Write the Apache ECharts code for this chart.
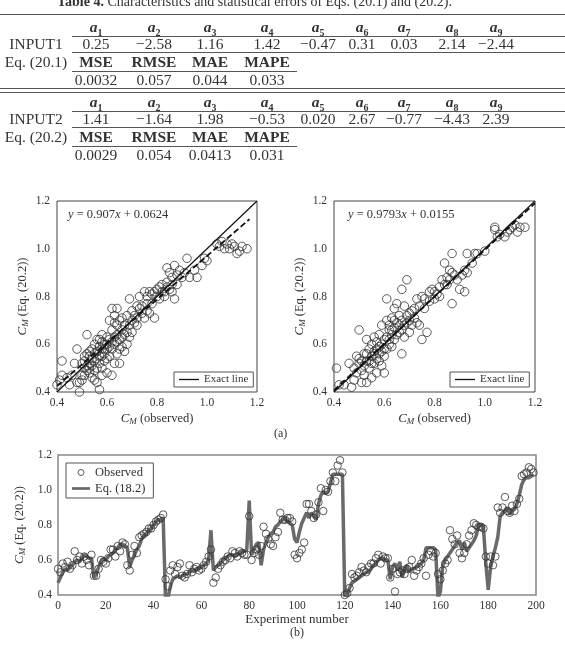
<!DOCTYPE html>
<html>
<head>
<meta charset="utf-8">
<script src="https://cdn.jsdelivr.net/npm/echarts@6/dist/echarts.min.js"></script>
<style>
body{margin:0;background:#fff;}
#main{position:absolute;left:0;top:0;width:565px;height:645px;}
#tbl{position:absolute;left:0;top:0;width:565px;height:165px;font-family:"Liberation Serif",serif;color:#333;overflow:hidden;}
.c{position:absolute;transform:translate(-50%,-50%);white-space:nowrap;font-size:15.5px;line-height:16px;}
.c sub{font-size:10px;line-height:0;}
.hl{position:absolute;height:0;border-top:1px solid #555;}
.cap{position:absolute;left:57px;top:-6px;font-size:14px;white-space:nowrap;}
</style>
</head>
<body>
<div id="main"></div>
<div id="tbl"></div>
<script>
// ---- table data
const coefNames = ['1','2','3','4','5','6','7','8','9'];
const errNames = ['MSE','RMSE','MAE','MAPE'];
const input1Coef = ['0.25','\u22122.58','1.16','1.42','\u22120.47','0.31','0.03','2.14','\u22122.44'];
const input1Err = ['0.0032','0.057','0.044','0.033'];
const input2Coef = ['1.41','\u22121.64','1.98','\u22120.53','0.020','2.67','\u22120.77','\u22124.43','2.39'];
const input2Err = ['0.0029','0.054','0.0413','0.031'];

// ---- scatter (a): [observed, predicted]
const obsVsEq1 = [
[0.41,0.45],[0.40,0.43],[0.42,0.53],[0.42,0.47],[0.44,0.46],[0.45,0.43],[0.46,0.47],[0.47,0.52],[0.48,0.58],[0.48,0.44],
[0.49,0.40],[0.49,0.44],[0.50,0.45],[0.50,0.47],[0.50,0.52],[0.51,0.50],[0.51,0.53],[0.51,0.55],[0.51,0.47],[0.52,0.64],
[0.52,0.56],[0.52,0.49],[0.52,0.51],[0.53,0.48],[0.53,0.52],[0.53,0.55],[0.53,0.57],[0.53,0.50],[0.54,0.58],[0.54,0.51],
[0.54,0.46],[0.54,0.54],[0.55,0.60],[0.55,0.53],[0.55,0.45],[0.55,0.49],[0.55,0.56],[0.56,0.57],[0.56,0.62],[0.56,0.44],
[0.56,0.54],[0.56,0.50],[0.57,0.52],[0.57,0.41],[0.57,0.55],[0.57,0.59],[0.57,0.62],[0.58,0.61],[0.58,0.50],[0.58,0.47],
[0.58,0.64],[0.58,0.55],[0.58,0.58],[0.59,0.56],[0.59,0.53],[0.59,0.60],[0.59,0.58],[0.60,0.48],[0.60,0.58],[0.60,0.63],
[0.60,0.60],[0.60,0.54],[0.61,0.70],[0.61,0.55],[0.61,0.62],[0.61,0.59],[0.62,0.75],[0.62,0.66],[0.62,0.58],[0.62,0.47],
[0.62,0.61],[0.63,0.72],[0.63,0.69],[0.63,0.60],[0.63,0.52],[0.63,0.63],[0.64,0.64],[0.64,0.75],[0.64,0.68],[0.64,0.61],
[0.64,0.56],[0.65,0.58],[0.65,0.52],[0.65,0.70],[0.65,0.62],[0.66,0.66],[0.66,0.71],[0.66,0.59],[0.66,0.63],[0.67,0.64],
[0.67,0.57],[0.67,0.68],[0.68,0.72],[0.68,0.60],[0.68,0.65],[0.69,0.79],[0.69,0.68],[0.69,0.63],[0.70,0.74],[0.70,0.65],
[0.70,0.70],[0.71,0.72],[0.71,0.69],[0.72,0.71],[0.72,0.76],[0.72,0.68],[0.73,0.75],[0.73,0.80],[0.74,0.73],[0.74,0.76],
[0.75,0.71],[0.75,0.82],[0.76,0.77],[0.76,0.74],[0.76,0.80],[0.77,0.73],[0.77,0.82],[0.78,0.81],[0.78,0.77],[0.79,0.71],
[0.79,0.82],[0.80,0.80],[0.80,0.83],[0.81,0.79],[0.81,0.84],[0.82,0.85],[0.82,0.82],[0.83,0.82],[0.83,0.80],[0.84,0.92],
[0.84,0.86],[0.84,0.84],[0.85,0.90],[0.85,0.83],[0.86,0.82],[0.86,0.88],[0.86,0.85],[0.87,0.79],[0.87,0.93],[0.88,0.89],
[0.88,0.85],[0.89,0.91],[0.90,0.88],[0.91,0.90],[0.92,0.96],[0.93,0.88],[0.95,0.91],[0.96,0.88],[0.98,0.93],[0.99,0.96],
[1.00,0.95],[1.04,1.02],[1.05,1.01],[1.06,1.03],[1.07,1.00],[1.08,1.02],[1.09,1.00],[1.10,1.02],[1.11,1.01],[1.12,0.98],
[1.13,0.99],[1.14,1.01],[1.16,1.00]
];
const fitEnds1 = [[0.40,0.425],[1.17,1.124]];

// ---- scatter (a) right panel
const obsVsEq2 = [
[0.41,0.50],[0.42,0.43],[0.44,0.43],[0.46,0.52],[0.47,0.42],[0.48,0.45],[0.48,0.50],[0.49,0.55],[0.49,0.48],[0.50,0.52],
[0.50,0.54],[0.50,0.66],[0.51,0.44],[0.51,0.49],[0.51,0.53],[0.52,0.51],[0.52,0.56],[0.52,0.47],[0.53,0.62],[0.53,0.53],
[0.53,0.44],[0.53,0.56],[0.54,0.58],[0.54,0.50],[0.54,0.53],[0.55,0.55],[0.55,0.46],[0.55,0.60],[0.55,0.52],[0.56,0.52],
[0.56,0.57],[0.56,0.63],[0.56,0.56],[0.57,0.48],[0.57,0.54],[0.57,0.61],[0.57,0.58],[0.58,0.59],[0.58,0.53],[0.58,0.64],
[0.58,0.56],[0.59,0.57],[0.59,0.68],[0.59,0.51],[0.59,0.60],[0.60,0.62],[0.60,0.55],[0.60,0.48],[0.60,0.58],[0.61,0.79],
[0.61,0.70],[0.61,0.58],[0.61,0.63],[0.62,0.66],[0.62,0.60],[0.62,0.68],[0.62,0.62],[0.63,0.64],[0.63,0.71],[0.63,0.59],
[0.63,0.66],[0.64,0.75],[0.64,0.67],[0.64,0.62],[0.64,0.70],[0.65,0.69],[0.65,0.77],[0.65,0.64],[0.66,0.72],[0.66,0.65],
[0.66,0.68],[0.67,0.83],[0.67,0.70],[0.67,0.56],[0.67,0.66],[0.68,0.76],[0.68,0.68],[0.68,0.63],[0.69,0.87],[0.69,0.72],
[0.69,0.69],[0.70,0.70],[0.70,0.73],[0.70,0.65],[0.71,0.68],[0.71,0.74],[0.72,0.75],[0.72,0.71],[0.73,0.79],[0.73,0.69],
[0.74,0.68],[0.74,0.76],[0.75,0.62],[0.75,0.80],[0.76,0.79],[0.76,0.75],[0.77,0.65],[0.78,0.78],[0.78,0.82],[0.79,0.83],
[0.80,0.82],[0.80,0.79],[0.81,0.81],[0.82,0.84],[0.82,0.80],[0.83,0.87],[0.84,0.85],[0.84,0.94],[0.85,0.88],[0.85,0.85],
[0.86,0.87],[0.86,0.91],[0.87,0.98],[0.87,0.77],[0.87,0.90],[0.88,0.89],[0.89,0.87],[0.90,0.83],[0.91,0.89],[0.92,0.82],
[0.92,0.91],[0.93,0.98],[0.93,0.90],[0.95,0.94],[0.96,0.98],[0.97,0.98],[1.00,0.99],[1.04,1.08],[1.04,1.09],[1.05,1.05],
[1.06,1.06],[1.08,1.05],[1.09,1.07],[1.10,1.08],[1.11,1.09],[1.12,1.10],[1.13,1.07],[1.14,1.09],[1.16,1.09]
];
const fitEnds2 = [[0.40,0.407],[1.20,1.191]];
const exactLine = [[0.4,0.4],[1.2,1.2]];

// ---- (b) experiment series, index = experiment number
const observed = [
0.55,0.53,0.58,0.56,0.59,0.55,0.57,0.65,0.60,0.62, 0.58,0.62,0.60,0.57,0.63,0.51,0.51,0.55,0.60,0.59,
0.58,0.61,0.66,0.66,0.62,0.68,0.65,0.70,0.69,0.57, 0.54,0.63,0.68,0.64,0.73,0.74,0.75,0.76,0.78,0.78,
0.80,0.82,0.83,0.84,0.86,0.49,0.45,0.54,0.57,0.52, 0.56,0.58,0.51,0.50,0.52,0.57,0.53,0.55,0.56,0.54,
0.55,0.57,0.59,0.62,0.66,0.47,0.50,0.55,0.57,0.59, 0.60,0.62,0.61,0.65,0.64,0.62,0.65,0.64,0.63,0.63,
0.85,0.60,0.64,0.66,0.63,0.68,0.79,0.75,0.72,0.69, 0.68,0.73,0.76,0.87,0.83,0.83,0.84,0.84,0.82,0.63,
0.61,0.64,0.66,0.70,0.92,0.92,0.88,0.84,0.86,0.93, 1.01,0.88,1.00,0.99,1.05,1.10,1.05,1.14,1.17,1.10,
0.40,0.41,0.44,0.52,0.50,0.51,0.53,0.56,0.54,0.53, 0.56,0.58,0.58,0.61,0.63,0.58,0.62,0.61,0.61,0.50,
0.55,0.42,0.52,0.53,0.54,0.52,0.55,0.56,0.60,0.51, 0.54,0.56,0.58,0.61,0.51,0.63,0.65,0.62,0.64,0.52,
0.49,0.54,0.58,0.60,0.77,0.72,0.69,0.74,0.64,0.61, 0.64,0.69,0.74,0.77,0.81,0.80,0.79,0.79,0.78,0.62,
0.58,0.62,0.57,0.62,0.90,0.87,0.90,0.96,0.88,0.87, 0.91,0.88,0.92,0.95,1.08,1.09,1.10,1.13,1.12,1.10
];
const eqModel = [
0.47,0.50,0.53,0.55,0.54,0.56,0.57,0.59,0.60,0.59, 0.61,0.63,0.62,0.61,0.61,0.50,0.52,0.56,0.59,0.61,
0.60,0.62,0.63,0.64,0.66,0.67,0.69,0.69,0.68,0.67, 0.56,0.60,0.63,0.66,0.68,0.72,0.74,0.75,0.77,0.78,
0.80,0.82,0.83,0.83,0.84,0.37,0.38,0.45,0.49,0.50, 0.51,0.50,0.51,0.52,0.52,0.53,0.54,0.54,0.55,0.55,
0.56,0.57,0.58,0.60,0.77,0.54,0.56,0.57,0.58,0.60, 0.61,0.62,0.63,0.63,0.62,0.63,0.64,0.65,0.65,0.66,
0.94,0.63,0.66,0.69,0.70,0.57,0.66,0.70,0.73,0.75, 0.76,0.79,0.80,0.82,0.83,0.84,0.82,0.81,0.80,0.72,
0.70,0.76,0.81,0.84,0.87,0.84,0.87,0.85,0.83,0.92, 0.97,0.99,0.98,0.99,1.04,1.09,1.09,1.09,1.09,1.09,
0.38,0.40,0.44,0.47,0.48,0.49,0.50,0.51,0.52,0.53, 0.53,0.55,0.57,0.58,0.60,0.61,0.61,0.60,0.60,0.49,
0.56,0.58,0.54,0.59,0.50,0.55,0.57,0.53,0.55,0.55, 0.56,0.57,0.58,0.60,0.67,0.67,0.67,0.67,0.66,0.38,
0.42,0.57,0.60,0.62,0.64,0.66,0.68,0.70,0.71,0.66, 0.70,0.65,0.67,0.69,0.71,0.74,0.80,0.80,0.79,0.58,
0.43,0.56,0.62,0.67,0.73,0.85,0.87,0.88,0.90,0.86, 0.88,0.89,0.92,0.97,1.03,1.06,1.07,1.07,1.08,1.09
];
const scatterTicks = {min: 0.4, max: 1.2, interval: 0.2};
const expTicks = {min: 0, max: 200, interval: 20};

// ---- table drawing
const tbl = document.getElementById('tbl');
const colX = [96, 154, 210, 267, 318, 362, 404, 452, 496];
function put(x, y, html) {
    const d = document.createElement('div');
    d.className = 'c';
    d.style.left = x + 'px';
    d.style.top = y + 'px';
    d.innerHTML = html;
    tbl.appendChild(d);
}
function hline(x1, x2, y, w) {
    const d = document.createElement('div');
    d.className = 'hl';
    d.style.left = x1 + 'px';
    d.style.width = (x2 - x1) + 'px';
    d.style.top = y + 'px';
    if (w) d.style.borderTopWidth = w + 'px';
    tbl.appendChild(d);
}
const cap = document.createElement('div');
cap.className = 'cap';
cap.innerHTML = '<b>Table 4.</b> Characteristics and statistical errors of Eqs. (20.1) and (20.2).';
tbl.appendChild(cap);

function block(y0, inputName, eqName, coef, err) {
    coefNames.forEach((n, i) => put(colX[i], y0, '<b><i>a</i><sub>' + n + '</sub></b>'));
    put(36, y0 + 17, inputName);
    coef.forEach((v, i) => put(colX[i], y0 + 17, v));
    put(36, y0 + 35, eqName);
    errNames.forEach((n, i) => put(colX[i], y0 + 35, '<b>' + n + '</b>'));
    err.forEach((v, i) => put(colX[i], y0 + 53, v));
    hline(72, 565, y0 + 9);
    hline(72, 565, y0 + 25);
    hline(72, 297, y0 + 44);
}
hline(0, 565, 14, 1.5);
block(27, 'INPUT1', 'Eq. (20.1)', input1Coef, input1Err);
hline(0, 565, 88);
hline(0, 565, 92);
block(102, 'INPUT2', 'Eq. (20.2)', input2Coef, input2Err);

// ---- charts
const F = 'Liberation Serif';
const TXT = '#333';
const rich = {
    i: {fontFamily: F, fontStyle: 'italic', fontSize: 13, color: TXT},
    s: {fontFamily: F, fontStyle: 'italic', fontSize: 9, color: TXT, padding: [6, 0, 0, 0]},
    n: {fontFamily: F, fontSize: 12.5, color: TXT}
};
const richEq = {
    i: {fontFamily: F, fontStyle: 'italic', fontSize: 12.5, color: TXT},
    n: {fontFamily: F, fontSize: 12.5, color: TXT}
};
const lbl = {fontFamily: F, fontSize: 11.5, color: TXT};

function scatterX(gi) {
    return Object.assign({
        type: 'value', gridIndex: gi,
        name: '{i|C}{s|M}{n| (observed)}', nameLocation: 'middle', nameGap: 19,
        nameTextStyle: {rich: rich},
        axisLine: {show: false}, axisTick: {show: false}, splitLine: {show: false},
        axisLabel: Object.assign({margin: 5, formatter: v => v.toFixed(1)}, lbl)
    }, scatterTicks);
}
function scatterY(gi) {
    return Object.assign({
        type: 'value', gridIndex: gi,
        name: '{i|C}{s|M}{n| (Eq. (20.2))}', nameLocation: 'middle', nameGap: 27,
        nameTextStyle: {rich: rich},
        axisLine: {show: false}, axisTick: {show: false}, splitLine: {show: false},
        axisLabel: Object.assign({margin: 7, formatter: v => v.toFixed(1)}, lbl)
    }, scatterTicks);
}
const openCircle = {color: 'rgba(0,0,0,0)', borderColor: '#333', borderWidth: 1};

function exactLegend(left) {
    return {
        data: [{name: 'Exact line', icon: 'rect'}], left: left, top: 372,
        borderColor: '#555', borderWidth: 1, borderRadius: 0,
        padding: [2, 5, 2, 5], itemWidth: 20, itemHeight: 1.3,
        textStyle: {fontFamily: F, fontSize: 11, color: TXT}
    };
}

const chart = echarts.init(document.getElementById('main'));
const option = {
    animation: false,
    grid: [
        {left: 57, top: 201, width: 200, height: 191, show: true, borderColor: '#444', borderWidth: 1},
        {left: 334, top: 201, width: 201, height: 191, show: true, borderColor: '#444', borderWidth: 1},
        {left: 58, top: 455, width: 478, height: 140, show: true, borderColor: '#888', borderWidth: 1.5}
    ],
    xAxis: [
        scatterX(0), scatterX(1),
        Object.assign({
            type: 'value', gridIndex: 2,
            name: 'Experiment number', nameLocation: 'middle', nameGap: 16,
            nameTextStyle: {fontFamily: F, fontSize: 13, color: TXT},
            axisLine: {show: false}, axisTick: {show: false}, splitLine: {show: false},
            axisLabel: Object.assign({margin: 5}, lbl)
        }, expTicks)
    ],
    yAxis: [
        scatterY(0), scatterY(1),
        Object.assign({
            type: 'value', gridIndex: 2,
            name: '{i|C}{s|M}{n| (Eq. (20.2))}', nameLocation: 'middle', nameGap: 28,
            nameTextStyle: {rich: rich},
            axisLine: {show: false}, axisTick: {show: false}, splitLine: {show: false},
            axisLabel: Object.assign({margin: 6, formatter: v => v.toFixed(1)}, lbl)
        }, scatterTicks)
    ],
    legend: [
        exactLegend(174),
        exactLegend(450),
        {
            data: [
                {name: 'Observed', icon: 'circle', itemStyle: {color: 'rgba(0,0,0,0)', borderColor: '#333', borderWidth: 1}},
                {name: 'Eq. (18.2)', icon: 'path://M0,0h24v3.6h-24z'}
            ],
            left: 66, top: 463, orient: 'vertical',
            borderColor: '#555', borderWidth: 1, borderRadius: 0,
            padding: [3, 8, 3, 6], itemGap: 3, itemWidth: 18, itemHeight: 6,
            textStyle: {fontFamily: F, fontSize: 12.5, color: TXT}
        }
    ],
    graphic: [
        {type: 'text', left: 68, top: 208, style: {text: '{i|y}{n| = 0.907}{i|x}{n| + 0.0624}', rich: richEq, fill: TXT}},
        {type: 'text', left: 348, top: 208, style: {text: '{i|y}{n| = 0.9793}{i|x}{n| + 0.0155}', rich: richEq, fill: TXT}},
        {type: 'text', left: 274, top: 428, style: {text: '(a)', font: '12px "Liberation Serif"', fill: TXT}},
        {type: 'text', left: 290, top: 627, style: {text: '(b)', font: '12px "Liberation Serif"', fill: TXT}}
    ],
    series: [
        {type: 'scatter', xAxisIndex: 0, yAxisIndex: 0, data: obsVsEq1, symbol: 'circle', symbolSize: 8.5, itemStyle: openCircle, z: 2},
        {name: 'Exact line', type: 'line', xAxisIndex: 0, yAxisIndex: 0, data: exactLine, symbol: 'none',
            lineStyle: {color: '#111', width: 1.2}, itemStyle: {color: '#111'}, z: 3},
        {type: 'line', xAxisIndex: 0, yAxisIndex: 0, data: fitEnds1, symbol: 'none', lineStyle: {color: '#111', width: 1.8, type: [6, 3]}, z: 3},
        {type: 'scatter', xAxisIndex: 1, yAxisIndex: 1, data: obsVsEq2, symbol: 'circle', symbolSize: 8.5, itemStyle: openCircle, z: 2},
        {name: 'Exact line', type: 'line', xAxisIndex: 1, yAxisIndex: 1, data: exactLine, symbol: 'none',
            lineStyle: {color: '#111', width: 1.2}, itemStyle: {color: '#111'}, z: 3},
        {type: 'line', xAxisIndex: 1, yAxisIndex: 1, data: fitEnds2, symbol: 'none', lineStyle: {color: '#111', width: 1.8, type: [6, 3]}, z: 3},
        {name: 'Eq. (18.2)', type: 'line', xAxisIndex: 2, yAxisIndex: 2, data: eqModel.map((v, i) => [i, v]),
            symbol: 'none', lineStyle: {color: '#6a6a6a', width: 3.5}, itemStyle: {color: '#6a6a6a'}, z: 2},
        {name: 'Observed', type: 'scatter', xAxisIndex: 2, yAxisIndex: 2, data: observed.map((v, i) => [i, v]),
            symbol: 'circle', symbolSize: 7.5, itemStyle: openCircle, z: 3}
    ]
};
chart.setOption(option);
</script>
</body>
</html>
